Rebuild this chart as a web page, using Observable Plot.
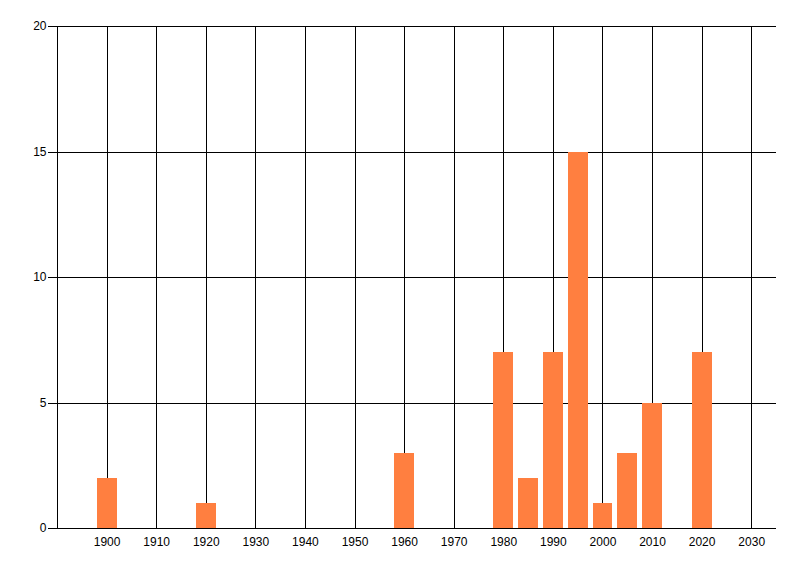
<!DOCTYPE html>
<html>
<head>
<meta charset="utf-8">
<script src="https://cdn.jsdelivr.net/npm/d3@7"></script>
<script src="https://cdn.jsdelivr.net/npm/@observablehq/plot@0.6"></script>
<style>
  html, body { margin: 0; padding: 0; background: #fff; }
  svg { display: block; }
  svg line, svg rect, svg path { shape-rendering: crispEdges; }
</style>
</head>
<body>
<div id="chart"></div>
<script>
const years = [1900, 1920, 1960, 1980, 1985, 1990, 1995, 2000, 2005, 2010, 2020];
const counts = [2, 1, 3, 7, 2, 7, 15, 1, 3, 5, 7];
const xTicks = [1900, 1910, 1920, 1930, 1940, 1950, 1960, 1970, 1980, 1990, 2000, 2010, 2020, 2030];
const yTicks = [0, 5, 10, 15, 20];
const xDomain = [1890, 2035];
const yDomain = [0, 20];
const barHalfWidth = 2;

const data = years.map((y, i) => ({year: y, count: counts[i]}));

const chart = Plot.plot({
  width: 800,
  height: 576,
  marginLeft: 57,
  marginRight: 24,
  marginTop: 26,
  marginBottom: 48,
  style: {fontFamily: "'Liberation Sans Narrow', 'Liberation Sans', sans-serif", fontSize: "12px", color: "#000", background: "#fff"},
  x: {domain: xDomain, ticks: xTicks, tickFormat: d => String(d), tickSize: 0, tickPadding: 9, label: null},
  y: {domain: yDomain, ticks: yTicks, tickSize: 9, tickPadding: 2, label: null},
  marks: [
    Plot.ruleX(xTicks, {stroke: "#000", strokeWidth: 1, strokeOpacity: 1}),
    Plot.ruleY(yTicks.filter(d => d > 0), {stroke: "#000", strokeWidth: 1, strokeOpacity: 1}),
    Plot.rectY(data, {x1: d => d.year - barHalfWidth, x2: d => d.year + barHalfWidth, y: "count", fill: "#ff7f40"}),
    Plot.ruleX([xDomain[0]], {stroke: "#000", strokeWidth: 1}),
    Plot.ruleY([0], {stroke: "#000", strokeWidth: 1}),
    Plot.axisX({ticks: xTicks, tickFormat: d => String(d), tickSize: 0, tickPadding: 9}),
    Plot.axisY({ticks: yTicks, tickSize: 9, tickPadding: 2, strokeOpacity: 1})
  ]
});
document.getElementById("chart").appendChild(chart);
</script>
</body>
</html>
